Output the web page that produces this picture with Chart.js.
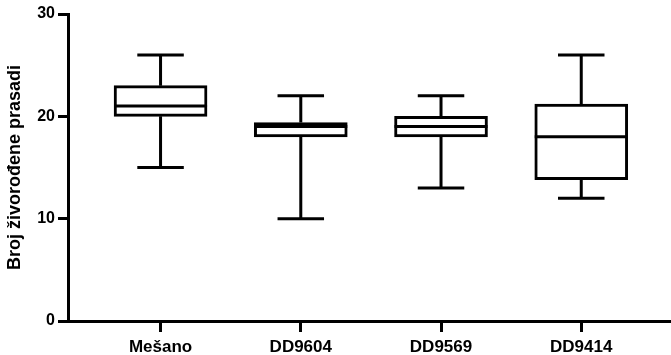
<!DOCTYPE html>
<html>
<head>
<meta charset="utf-8">
<script src="https://cdn.jsdelivr.net/npm/chart.js@4.4.1/dist/chart.umd.min.js"></script>
<style>
html,body{margin:0;padding:0;background:#fff;}
#wrap{width:671px;height:355px;position:relative;}
</style>
</head>
<body>
<div id="wrap"><canvas id="c"></canvas></div>
<script>
const categories = ["Mešano", "DD9604", "DD9569", "DD9414"];
const minValues = [15, 10, 13, 12];
const q1Values = [20, 18, 18, 13.8];
const medianValues = [21, 19, 19, 18];
const q3Values = [23, 19.4, 20, 21.2];
const maxValues = [26, 22, 22, 26];
const yTicks = [0, 10, 20, 30];
const yTitle = "Broj živorođene prasadi";

const FONT = '"Liberation Sans", Arial, sans-serif';

const boxPlugin = {
  id: 'boxWhiskers',
  afterDatasetsDraw(chart) {
    const ctx = chart.ctx;
    const xs = chart.scales.x, ys = chart.scales.y;
    const meta = chart.getDatasetMeta(0);
    ctx.save();
    ctx.strokeStyle = '#000';
    ctx.lineWidth = 3;
    ctx.lineCap = 'butt';
    categories.forEach((c, i) => {
      const x = xs.getPixelForValue(i);
      const bar = meta.data[i];
      const half = bar.width / 2;
      const capHalf = half / 2;
      const yMin = ys.getPixelForValue(minValues[i]);
      const yQ1 = ys.getPixelForValue(q1Values[i]);
      const yMed = ys.getPixelForValue(medianValues[i]);
      const yQ3 = ys.getPixelForValue(q3Values[i]);
      const yMax = ys.getPixelForValue(maxValues[i]);
      ctx.beginPath();
      ctx.moveTo(x, yQ3); ctx.lineTo(x, yMax);
      ctx.moveTo(x - capHalf, yMax); ctx.lineTo(x + capHalf, yMax);
      ctx.moveTo(x, yQ1); ctx.lineTo(x, yMin);
      ctx.moveTo(x - capHalf, yMin); ctx.lineTo(x + capHalf, yMin);
      ctx.moveTo(x - half, yMed); ctx.lineTo(x + half, yMed);
      ctx.stroke();
    });
    ctx.restore();
  }
};

new Chart(document.getElementById('c'), {
  type: 'bar',
  data: {
    datasets: [{
      data: categories.map((c, i) => ({ x: i, y: [q1Values[i], q3Values[i]] })),
      backgroundColor: '#fff',
      borderColor: '#000',
      borderWidth: 3,
      borderSkipped: false,
      barThickness: 93
    }]
  },
  options: {
    responsive: true,
    maintainAspectRatio: false,
    animation: false,
    layout: { padding: { top: 14, right: 0, left: 0, bottom: 0 } },
    plugins: { legend: { display: false }, tooltip: { enabled: false } },
    scales: {
      x: {
        type: 'linear',
        offset: false,
        min: -0.66,
        max: 3.64,
        afterBuildTicks(scale) { scale.ticks = categories.map((c, i) => ({ value: i })); },
        afterFit(scale) { scale.height = 34; },
        ticks: {
          autoSkip: false,
          maxRotation: 0,
          padding: 5,
          color: '#000',
          font: { family: FONT, size: 17, weight: 'bold' },
          callback(v) { return categories[v]; }
        },
        grid: { display: true, offset: false, drawOnChartArea: false, drawTicks: true, tickLength: 11, color: '#000', lineWidth: 3 },
        border: { display: true, color: '#000', width: 3 }
      },
      y: {
        min: 0,
        max: 30,
        afterBuildTicks(scale) { scale.ticks = yTicks.map(v => ({ value: v })); },
        afterFit(scale) { scale.width = 68; },
        ticks: {
          padding: 3,
          color: '#000',
          font: { family: FONT, size: 16, weight: 'bold' }
        },
        grid: { display: true, drawOnChartArea: false, drawTicks: true, tickLength: 10, color: '#000', lineWidth: 3 },
        border: { display: true, color: '#000', width: 3 },
        title: {
          display: true,
          text: yTitle,
          color: '#000',
          padding: { top: 4, bottom: 0 },
          font: { family: FONT, size: 18, weight: 'bold' }
        }
      }
    }
  },
  plugins: [boxPlugin]
});
</script>
</body>
</html>
